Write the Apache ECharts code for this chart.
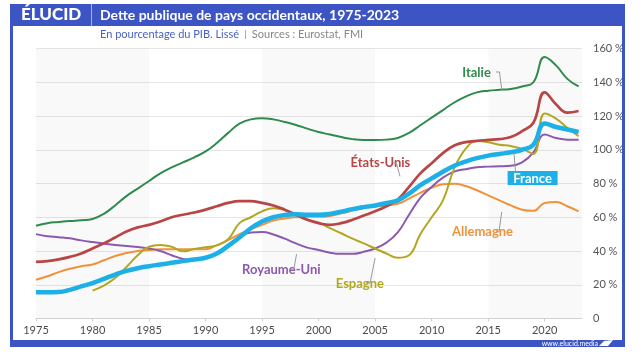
<!DOCTYPE html>
<html><head><meta charset="utf-8">
<script src="https://cdn.jsdelivr.net/npm/echarts@6/dist/echarts.min.js"></script>
<style>html,body{margin:0;padding:0;background:#fff}#c{width:643px;height:355px}</style>
</head><body><div id="c"></div>
<script>
const years = [1975,1976,1977,1978,1979,1980,1981,1982,1983,1984,1985,1986,1987,1988,1989,1990,1991,1992,1993,1994,1995,1996,1997,1998,1999,2000,2001,2002,2003,2004,2005,2006,2007,2008,2009,2010,2011,2012,2013,2014,2015,2016,2017,2018,2019,2020,2021,2022,2023];
const italie = [55,56.5,57.2,57.8,58.2,59,62,67,72.5,77,81.5,86,89.5,92.5,95.5,99,104,110,115.5,118,118.7,118,116.5,114.7,112.5,110.5,109,107.5,106.3,105.8,105.8,106,107,110,114.5,119,123.5,128,131.5,134,135,135.5,136,137.5,140,155,150,142,137.5];
const etatsUnis = [33.5,34,35,36.5,38.5,41.5,44.5,48,51.5,54,55.5,57.5,60,61.5,62.8,64.5,66.5,68.5,69.5,69.5,68.5,67,64.5,61.5,58.5,56.5,55.5,56.5,58.5,61,63.5,66.5,70.5,78,86,92,98,102.5,104.5,105.3,105.8,106.3,107.5,111,116,134,127,122,123];
const france = [15.5,15.5,15.7,17,19,21,23.5,26,28.2,29.8,31,32,33,34,35,36,38.5,43,48,53.5,57.5,60,61.3,61.8,61.5,61.5,62,63.3,64.8,66,67,68.5,70,74,79,83,87,90.5,93,95,96.5,97.5,98.5,100,103,115.5,113.5,112,110.5];
const allemagne = [23,25,27.5,29.5,31,32,34.5,37,38.8,40,40.6,41,41,41,41,41,43.5,46.5,50,53,55.5,58,59.3,60,60.3,60.3,60.8,62.3,64,65.5,66.3,67,68,71,74.5,77.5,79.5,79.8,78.5,76,73,70,67,64.5,63.8,68.5,69,66.5,63.5];
const royaumeUni = [50,48.8,48.2,47.5,46.3,45.3,44.4,43.6,43,42.3,41.5,40,37.5,35.3,34.7,35.8,39,43.5,48.5,51,51.2,49.8,47.3,44.5,42,40.6,39,38.3,38.3,39.5,41.5,45,51,61.5,71.5,78,83.5,87,88.5,89.7,90,90.2,90.5,92.5,98.5,109,107,106,106];
const espagne = [null,null,null,null,null,16.5,19.5,24,30.5,37.5,42.5,43.6,42.5,39.8,41.2,42.2,43.3,47,56.5,60,63.5,65.3,64.3,61.5,58.5,56.8,53.5,50.5,47.3,44.5,41.5,38.5,36,37.5,50,60,70,89,100.5,105.2,104.5,103,102.2,100.5,97.5,121.5,118.5,113,108];
const xTicks = [1975,1980,1985,1990,1995,2000,2005,2010,2015,2020];
const yTicks = [0,20,40,60,80,100,120,140,160];

const FONT = 'Lato';
const BLUE = '#3d55c4';
const pair = arr => years.map((y,i)=>[y, arr[i]]);

const chart = echarts.init(document.getElementById('c'), null, {renderer:'canvas'});

function line(name, data, color, width, z, extra){
  return Object.assign({
    name, type:'line', data: pair(data), smooth:0.45, showSymbol:false, symbol:'none',
    lineStyle:{color, width}, itemStyle:{color}, z, silent:true, connectNulls:false
  }, extra||{});
}

const option = {
  animation:false,
  textStyle:{fontFamily:FONT},
  grid:{left:36, right:61, top:48.5, bottom:36.5, containLabel:false},
  xAxis:{
    type:'value', min:1975, max:2023.3,
    axisLine:{show:true, lineStyle:{color:'#d4d4d4', width:1}},
    axisTick:{show:true, customValues:xTicks, length:3, lineStyle:{color:'#cfcfcf'}},
    axisLabel:{customValues:xTicks, formatter:v=>String(v), color:'#4a4a4a', fontSize:11, margin:6, fontFamily:FONT},
    splitLine:{show:false}
  },
  yAxis:{
    type:'value', position:'right', min:0, max:160, interval:20,
    axisLine:{show:false}, axisTick:{show:false},
    axisLabel:{formatter:v=> v===0 ? '0' : v+' %', color:'#555', fontSize:11, margin:11, align:'left', fontFamily:FONT},
    splitLine:{show:true, lineStyle:{color:'#e6e6e6', width:1}}
  },
  series:[
    line('Allemagne', allemagne, '#f0923c', 2, 3, {
      markArea:{silent:true, itemStyle:{color:'rgba(0,0,0,0.025)'},
        data:[[{xAxis:1975},{xAxis:1985}],[{xAxis:1995},{xAxis:2005}],[{xAxis:2015},{xAxis:2023.3}]]}
    }),
    line('Royaume-Uni', royaumeUni, '#8b59ad', 2, 4),
    line('Espagne', espagne, '#b3a621', 2, 5),
    line('États-Unis', etatsUnis, '#b94545', 2.7, 6),
    line('Italie', italie, '#2e8b4c', 2, 7),
    line('France', france, '#1cb0e6', 4.5, 8)
  ]
};
chart.setOption(option);

// annotations anchored in data coordinates
const P = (x,y)=>chart.convertToPixel({gridIndex:0},[x,y]);
const labels = [
  {t:'Italie', c:'#2e8b4c', at:[2013.97,145.8], lead:[[2015.68,146.1],[2016.0,146.1],[2016.2,135.5]]},
  {t:'États-Unis', c:'#b94545', at:[2005.47,92.1], lead:[[2006.57,92.4],[2006.9,91.8],[2007.2,84.2]]},
  {t:'Allemagne', c:'#f0923c', at:[2014.5,51.3], lead:[[2015.7,51.3],[2015.95,51.3],[2016.2,63.1]]},
  {t:'Royaume-Uni', c:'#8b59ad', at:[1996.7,28.7], lead:[[1997.5,28.9],[1997.8,28.9],[1998.05,38.2]]},
  {t:'Espagne', c:'#b3a621', at:[2003.65,20.4], lead:[[2004.2,21.0],[2004.55,21.0],[2005.0,35.8]]}
];
const gfx = [];
// frame
gfx.push({type:'rect', shape:{x:10,y:4,width:615,height:22}, style:{fill:BLUE}, z:100});
gfx.push({type:'rect', shape:{x:10,y:4,width:3,height:343}, style:{fill:BLUE}, z:100});
gfx.push({type:'rect', shape:{x:622,y:4,width:3,height:343}, style:{fill:BLUE}, z:100});
gfx.push({type:'rect', shape:{x:10,y:340,width:615,height:7}, style:{fill:BLUE}, z:100});
gfx.push({type:'line', shape:{x1:91.5,y1:4,x2:91.5,y2:26}, style:{stroke:'rgba(255,255,255,0.55)', lineWidth:1}, z:101});
gfx.push({type:'text', x:21, y:15, style:{text:'ÉLUCID', fill:'#fff', font:'900 17px '+FONT, textVerticalAlign:'middle'}, z:102});
gfx.push({type:'text', x:100, y:15.5, style:{text:'Dette publique de pays occidentaux, 1975-2023', fill:'#fff', font:'bold 14px '+FONT, textVerticalAlign:'middle'}, z:102});
gfx.push({type:'text', x:100, y:34, style:{
  text:'{a|En pourcentage du PIB. Lissé}{b|  |  }{c|Sources : Eurostat, FMI}',
  textVerticalAlign:'middle',
  rich:{
    a:{fill:'#4a62c4', font:'11px '+FONT},
    b:{fill:'#888', font:'10px '+FONT},
    c:{fill:'#888', font:'11px '+FONT}
  }}, z:102});
gfx.push({type:'text', x:598, y:343.5, style:{text:'www.elucid.media', fill:'#fff', font:'7px '+FONT, textAlign:'right', textVerticalAlign:'middle'}, z:102});
gfx.push({type:'polygon', shape:{points:[[599,346],[604,341],[613,340],[608,346]]}, style:{fill:'#fff'}, z:102});

labels.forEach(l=>{
  const p = P(l.at[0], l.at[1]);
  gfx.push({type:'text', x:p[0], y:p[1], style:{text:l.t, fill:l.c, font:'bold 13px '+FONT, textAlign:'center', textVerticalAlign:'middle'}, z:50});
  gfx.push({type:'polyline', shape:{points:l.lead.map(q=>P(q[0],q[1]))}, style:{stroke:'#999', lineWidth:1, fill:null}, z:50});
});
// France box
{
  const c = P(2018.93, 83.3);
  gfx.push({type:'rect', shape:{x:c[0]-25, y:c[1]-7, width:50, height:14}, style:{fill:'#1cb0e6'}, z:50});
  gfx.push({type:'text', x:c[0], y:c[1]+0.5, style:{text:'France', fill:'#fff', font:'bold 13px '+FONT, textAlign:'center', textVerticalAlign:'middle'}, z:51});
  const pts = [[2017.28,98.2],[2017.45,84.5],[2017.9,84.5]].map(q=>P(q[0],q[1]));
  gfx.push({type:'polyline', shape:{points:pts}, style:{stroke:'#999', lineWidth:1, fill:null}, z:50});
}
chart.setOption({graphic:gfx});
</script></body></html>
